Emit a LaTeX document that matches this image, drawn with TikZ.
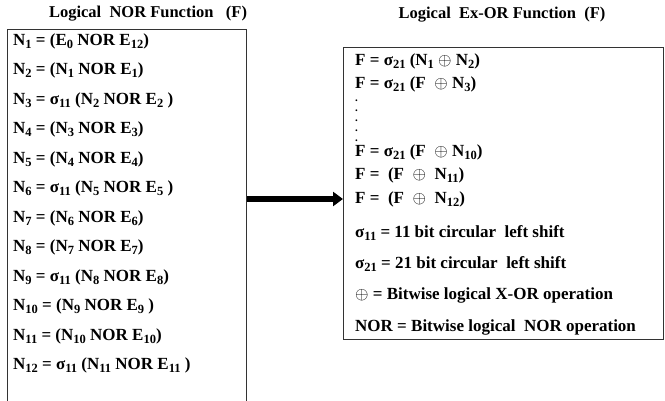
\documentclass[tikz,border=0pt]{standalone}
\usepackage{fontspec}
\setmainfont{Liberation Serif}
\usetikzlibrary{arrows.meta,
positioning}

\newcommand{\lo}[1]{\raisebox{-0.35ex}{\fontsize{12.5}{13}\selectfont #1}}
\newcommand{\xr}{$\oplus$}

\begin{document}
\begin{tikzpicture}[
    x=1pt, y=-1pt,
    eqline/.style={
        anchor=base west,
        inner sep=0pt,
        font=\fontsize{17}{19}\selectfont\bfseries
    },
    heading/.style={
        anchor=base,
        inner sep=0pt,
        font=\fontsize{16.5}{19}\selectfont\bfseries
    },
    frame/.style={
        draw=black!80,
        line width=1pt,
        inner sep=0pt,
        anchor=north west
    },
    flow/.style={
        line width=5.5pt,
        -{Triangle[length=10pt,width=14pt]}
    }
]
\useasboundingbox (0,0) rectangle (665,401);

% titles
\node[heading] (nortitle) at (148,18) {Logical\ \ NOR Function\ \ \ (F)};
\node[heading] (xortitle) at (502,19) {Logical\ \ Ex-OR Function\ \ (F)};

% boxes
\node[frame, minimum width=239pt, minimum height=385pt] (norbox) at (7,29) {};
\node[frame, minimum width=320pt, minimum height=292pt] (xorbox) at (343,47) {};

% NOR rounds
\node[eqline] (n1)  at (13,46)  {N\lo{1} = (E\lo{0} NOR E\lo{12})};
\node[eqline] (n2)  at (13,75)  {N\lo{2} = (N\lo{1} NOR E\lo{1})};
\node[eqline] (n3)  at (13,105) {N\lo{3} = σ\lo{11} (N\lo{2} NOR E\lo{2} )};
\node[eqline] (n4)  at (13,134) {N\lo{4} = (N\lo{3} NOR E\lo{3})};
\node[eqline] (n5)  at (13,164) {N\lo{5} = (N\lo{4} NOR E\lo{4})};
\node[eqline] (n6)  at (13,193) {N\lo{6} = σ\lo{11} (N\lo{5} NOR E\lo{5} )};
\node[eqline] (n7)  at (13,223) {N\lo{7} = (N\lo{6} NOR E\lo{6})};
\node[eqline] (n8)  at (13,252) {N\lo{8} = (N\lo{7} NOR E\lo{7})};
\node[eqline] (n9)  at (13,282) {N\lo{9} = σ\lo{11} (N\lo{8} NOR E\lo{8})};
\node[eqline] (n10) at (13,311) {N\lo{10} = (N\lo{9} NOR E\lo{9} )};
\node[eqline] (n11) at (13,341) {N\lo{11} = (N\lo{10} NOR E\lo{10})};
\node[eqline] (n12) at (13,370) {N\lo{12} = σ\lo{11} (N\lo{11} NOR E\lo{11} )};

% Ex-OR steps
\node[eqline] (f1)  at (355,66)  {F = σ\lo{21} (N\lo{1} \xr{} N\lo{2})};
\node[eqline] (f2)  at (355,89)  {F = σ\lo{21} (F\ \ \xr{} N\lo{3})};
\node[eqline, font=\fontsize{11}{10}\selectfont\bfseries, align=left, anchor=north west]
    (dots) at (355,100) {.\\.\\.\\.\\.};
\node[eqline] (f10) at (355,157) {F = σ\lo{21} (F\ \ \xr{} N\lo{10})};
\node[eqline] (f11) at (355,180) {F =\ \ (F\ \ \xr{}\ \ N\lo{11})};
\node[eqline] (f12) at (355,204) {F =\ \ (F\ \ \xr{}\ \ N\lo{12})};

% legend
\node[eqline] (s11) at (355,238) {σ\lo{11} = 11 bit\ circular\ \ left shift};
\node[eqline] (s21) at (355,269) {σ\lo{21} = 21 bit\ circular\ \ left shift};
\node[eqline] (xl)  at (355,300) {\xr{} = Bitwise logical X-OR operation};
\node[eqline] (nl)  at (355,331) {NOR = Bitwise logical\ \ NOR operation};

\coordinate (mid) at (0,199);
\draw[flow] (norbox.east |- mid) -- (xorbox.west |- mid);

\end{tikzpicture}
\end{document}
